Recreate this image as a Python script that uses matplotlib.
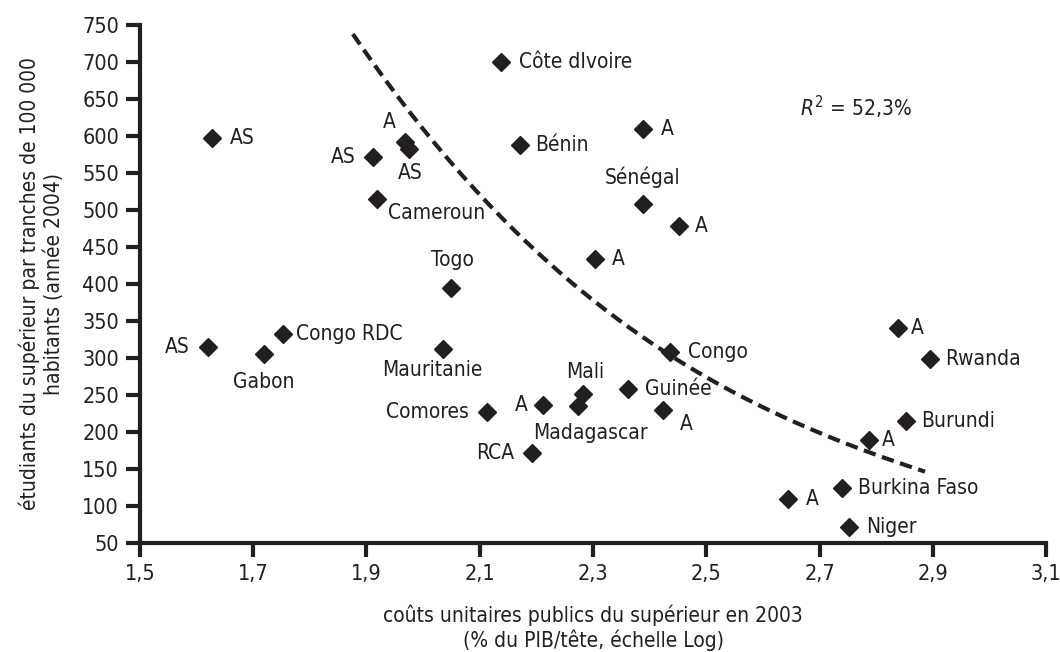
import matplotlib.pyplot as plt
import numpy as np

plt.rcParams['font.family'] = ['DejaVu Sans']
plt.rcParams['font.stretch'] = 'condensed'

# Points (x = log unit cost, y = students per 100 000)
labels = ['AS', 'AS', 'A', 'AS', 'Cameroun', 'Côte dIvoire', 'Bénin', 'A',
          'Sénégal', 'A', 'A', 'Togo', 'Congo RDC', 'Gabon', 'AS', 'Mauritanie',
          'Comores', 'A', 'RCA', 'Mali', 'Madagascar', 'Guinée', 'A', 'Congo',
          'A', 'Rwanda', 'Burundi', 'A', 'Burkina Faso', 'A', 'Niger']
x_vals = [1.627, 1.911, 1.968, 1.975, 1.918, 2.137, 2.171, 2.388,
          2.388, 2.452, 2.304, 2.049, 1.753, 1.719, 1.620, 2.035,
          2.113, 2.212, 2.192, 2.282, 2.273, 2.362, 2.424, 2.436,
          2.839, 2.894, 2.853, 2.787, 2.740, 2.644, 2.752]
y_vals = [597, 571, 592, 582, 515, 700, 588, 609,
          508, 478, 434, 395, 332, 305, 315, 312,
          227, 236, 172, 251, 235, 258, 230, 308,
          340, 299, 215, 189, 124, 109, 72]

# label offsets in points (dx, dy, ha)
offsets = [(13, 0, 'left'), (-12, 0, 'right'), (-11, 14, 'center'), (1, -17, 'center'),
           (8, -10, 'left'), (13, 0, 'left'), (11, 0, 'left'), (13, 0, 'left'),
           (0, 19, 'center'), (11, 0, 'left'), (12, 0, 'left'), (1, 20, 'center'),
           (9, 0, 'left'), (0, -20, 'center'), (-13, 0, 'right'), (-8, -15, 'center'),
           (-13, 0, 'right'), (-11, 0, 'right'), (-13, 0, 'right'), (2, 16, 'center'),
           (9, -19, 'center'), (12, 0, 'left'), (12, -10, 'left'), (13, 0, 'left'),
           (9, 0, 'left'), (11, 0, 'left'), (11, 0, 'left'), (9, 0, 'left'),
           (11, 0, 'left'), (13, 0, 'left'), (12, 0, 'left')]

# trend curve, points
trend_x = [1.876, 2.024, 2.171, 2.224, 2.436, 2.777, 2.886]
trend_y = [734, 597, 459, 423, 307, 176, 146]

fig = plt.figure(figsize=(10.6, 6.52), dpi=100)
ax = fig.add_axes([0.132, 0.167, 0.855, 0.795])

coef = np.polyfit(trend_x, trend_y, 3)
xs = np.linspace(trend_x[0], trend_x[-1], 200)
ax.plot(xs, np.polyval(coef, xs), color='#231f20', lw=3, ls=(0, (3, 1.6)))

ax.plot(x_vals, y_vals, 'D', color='#231f20', markersize=9.5, ls='none')

for xv, yv, lab, (dx, dy, ha) in zip(x_vals, y_vals, labels, offsets):
    ax.annotate(lab, (xv, yv), xytext=(dx, dy), textcoords='offset points',
                ha=ha, va='center', fontsize=15, color='#231f20')

ax.text(2.666, 638, r'$R^2$ = 52,3%', fontsize=15, color='#231f20',
        ha='left', va='center')

ax.set_xlim(1.5, 3.1)
ax.set_ylim(50, 750)
xt = np.arange(1.5, 3.11, 0.2)
ax.set_xticks(xt)
ax.set_xticklabels([f'{v:.1f}'.replace('.', ',') for v in xt])
ax.set_yticks(range(50, 751, 50))
ax.tick_params(labelsize=15.5, width=3, length=10, colors='#231f20', pad=5)
for s in ['top', 'right']:
    ax.spines[s].set_visible(False)
for s in ['left', 'bottom']:
    ax.spines[s].set_linewidth(3)
    ax.spines[s].set_color('#231f20')

ax.set_xlabel('coûts unitaires publics du supérieur en 2003\n(% du PIB/tête, échelle Log)',
              fontsize=15, color='#231f20', labelpad=15, linespacing=1.2)
ax.set_ylabel('étudiants du supérieur par tranches de 100 000\nhabitants (année 2004)',
              fontsize=15, color='#231f20', labelpad=13, linespacing=1.2)

fig.savefig('out.png', dpi=100)
